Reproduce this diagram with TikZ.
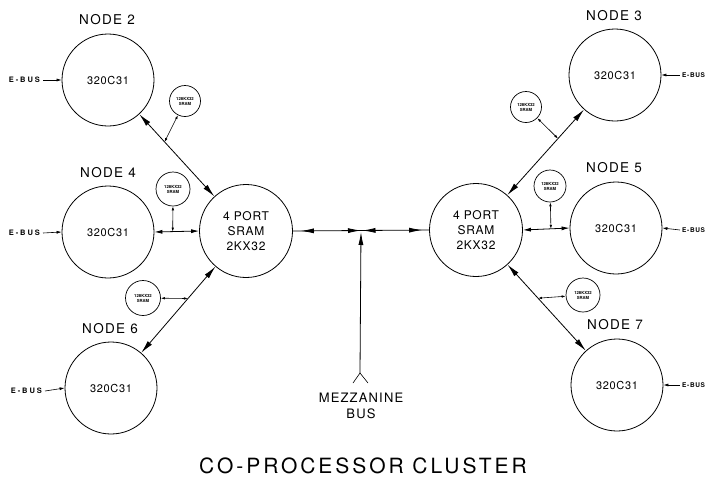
\documentclass[tikz,border=0pt]{standalone}
\usepackage{fontspec}
\setmainfont{TeX Gyre Heros}
\usetikzlibrary{arrows.meta,calc,decorations.markings}
\tikzset{
  bigc/.style={circle,draw,line width=0.8pt,minimum size=92pt,inner sep=0pt,
    font=\fontsize{11}{12}\selectfont\addfontfeatures{LetterSpace=6}},
  sramc/.style={circle,draw,line width=0.8pt,minimum size=93pt,inner sep=0pt,align=center,
    font=\fontsize{12}{15}\selectfont\addfontfeatures{LetterSpace=6}},
  smc/.style={circle,draw,line width=0.7pt,minimum size=31pt,inner sep=0pt,align=center,
    font=\fontsize{4.2}{5}\selectfont\bfseries},
  nlabel/.style={font=\fontsize{13.5}{14}\selectfont\addfontfeatures{LetterSpace=10}},
  ebus/.style={font=\fontsize{7.5}{8}\selectfont\bfseries\addfontfeatures{LetterSpace=25},inner sep=0pt},
  ebusr/.style={font=\fontsize{6.5}{7}\selectfont\bfseries\addfontfeatures{LetterSpace=10},inner sep=0pt},
  conn/.style={line width=0.8pt},
  bigboth/.style={conn,{Latex[length=13pt,width=5.5pt]}-{Latex[length=13pt,width=5.5pt]}},
  midboth/.style={conn,{Latex[length=8pt,width=4pt]}-{Latex[length=8pt,width=4pt]}},
  tinyboth/.style={line width=0.6pt,{Latex[length=4pt,width=2.5pt]}-{Latex[length=4pt,width=2.5pt]}},
  ebarrow/.style={line width=0.6pt,-{Latex[length=5pt,width=3pt]}},
}
\begin{document}
\begin{tikzpicture}[x=1pt,y=-1pt]
\useasboundingbox (0,0) rectangle (709,483);

% big nodes
\node[bigc] (n2) at (108,80) {320C31};
\node[bigc] (n4) at (108,232) {320C31};
\node[bigc] (n6) at (111,388) {320C31};
\node[bigc] (n3) at (615,75) {320C31};
\node[bigc] (n5) at (616,228) {320C31};
\node[bigc] (n7) at (617,385) {320C31};
\node[sramc] (sl) at (246,231) {4 PORT\\SRAM\\2KX32};
\node[sramc] (sr) at (476,230) {4 PORT\\SRAM\\2KX32};

% small SRAM
\node[smc] (s2) at (185,101) {128KX32\\SRAM};
\node[smc,minimum size=34pt] (s4) at (173,189) {128KX32\\SRAM};
\node[smc,minimum size=35pt] (s6) at (143,298) {128KX32\\SRAM};
\node[smc] (s3) at (526,107) {128KX32\\SRAM};
\node[smc,minimum size=32pt] (s5) at (550,186) {128KX32\\SRAM};
\node[smc,minimum size=34pt] (s7) at (583,295) {128KX32\\SRAM};

% labels
\node[nlabel] (l2) at (107,20) {NODE 2};
\node[nlabel] (l4) at (108,173) {NODE 4};
\node[nlabel] (l6) at (110,329) {NODE 6};
\node[nlabel] (l3) at (614,16) {NODE 3};
\node[nlabel] (l5) at (614,168) {NODE 5};
\node[nlabel] (l7) at (615,325) {NODE 7};

% E-BUS
\node[ebus,anchor=east] (e2) at (40,80) {E-BUS};
\node[ebus,anchor=east] (e4) at (40,233) {E-BUS};
\node[ebus,anchor=east] (e6) at (42,391) {E-BUS};
\node[ebusr,anchor=west] (e3) at (682,75) {E-BUS};
\node[ebusr,anchor=west] (e5) at (682,230) {E-BUS};
\node[ebusr,anchor=west] (e7) at (682,385) {E-BUS};
\draw[ebarrow] (e2.east) ++(3,0) coordinate (e2a) -- (n2.west);
\draw[ebarrow] (e4.east) ++(3,0) coordinate (e4a) -- (n4.west);
\draw[ebarrow] (e6.east) ++(3,0) coordinate (e6a) -- (n6.west);
\draw[ebarrow] (e3.west) ++(-2,0) coordinate (e3a) -- (n3.east);
\draw[ebarrow] (e5.west) ++(-2,0) coordinate (e5a) -- (n5.east);
\draw[ebarrow] (e7.west) ++(-2,0) coordinate (e7a) -- (n7.east);

% node - sram connections
\draw[bigboth] (n2) -- (sl);
\draw[midboth] (n4.east) -- (sl.west);
\draw[bigboth] (n6) -- (sl);
\draw[bigboth] (n3) -- (sr);
\draw[midboth] (n5.west) -- (sr.east);
\draw[bigboth] (n7) -- (sr);

% junctions
\coordinate (j2) at ($(n2)!0.41!(sl)$);
\coordinate (j4) at ($(n4.east)!0.41!(sl.west)$);
\coordinate (j6) at ($(sl)!0.43!(n6)$);
\coordinate (j3) at ($(sr)!0.59!(n3)$);
\coordinate (j5) at ($(sr.east)!0.6!(n5.west)$);
\coordinate (j7) at ($(sr)!0.44!(n7)$);
\draw[tinyboth] (s2) -- (j2);
\draw[tinyboth] (s4) -- (j4);
\draw[tinyboth] (s6) -- (j6);
\draw[tinyboth] (s3) -- (j3);
\draw[tinyboth] (s5) -- (j5);
\draw[tinyboth] (s7) -- (j7);

% mezzanine bus
\coordinate (jm) at ($(sl.east)!0.5!(sr.west)$);
\coordinate (mb) at (360,373);
\draw[conn,postaction={decorate},decoration={markings,
  mark=at position 8pt with {\arrowreversed{Latex[length=13pt,width=5pt]}},
  mark=at position 1 with {\arrow{Latex[length=13pt,width=5pt]}}}] (sl.east) -- (jm);
\draw[conn,postaction={decorate},decoration={markings,
  mark=at position 1.5pt with {\arrowreversed{Latex[length=13pt,width=5pt]}},
  mark=at position -7pt with {\arrow{Latex[length=13pt,width=5pt]}}}] (jm) -- (sr.west);
\draw[conn,-{Latex[length=13pt,width=5pt]},shorten >=1.5pt] (mb) -- (jm);
\draw[line width=0.6pt] ($(mb)+(-7,10)$) -- (mb) -- ($(mb)+(8,10)$);
\node[align=center,font=\fontsize{13}{16}\selectfont\addfontfeatures{LetterSpace=9}] (mz) at (361,406) {MEZZANINE\\BUS};

% title
\node[font=\fontsize{21}{22}\selectfont\addfontfeatures{LetterSpace=14}] (title) at (363,466) {CO-PROCESSOR CLUSTER};
\end{tikzpicture}
\end{document}
